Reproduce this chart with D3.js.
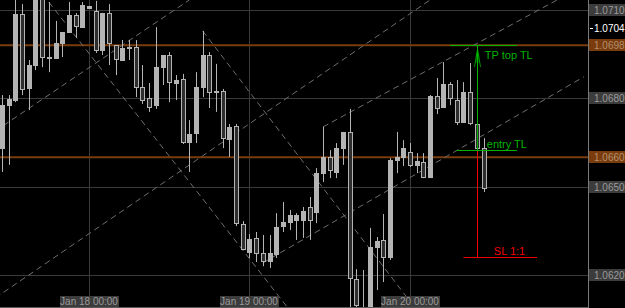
<!DOCTYPE html>
<html>
<head>
<meta charset="utf-8">
<script src="https://cdn.jsdelivr.net/npm/d3@7"></script>
<style>
  body { margin: 0; background: #000; }
  svg { display: block; }
  text { font-family: "Liberation Sans", Arial, sans-serif; }
</style>
</head>
<body>
<div id="chart"></div>
<script>
// EURUSD H1, one bar per hour, first bar Jan 17 11:00
const firstBar = new Date(2017, 0, 17, 11);

const open = [
  1.06631, 1.06777, 1.06794, 1.07086, 1.06835, 1.06913, 1.07141, 1.06940, 1.06937, 1.06988,
  1.07025, 1.07083, 1.07042, 1.07107, 1.07097, 1.06964, 1.07090, 1.06981, 1.06930, 1.06974,
  1.06974, 1.06838, 1.06801, 1.06777, 1.06906, 1.06947, 1.06852, 1.06866, 1.06652, 1.06682,
  1.06838, 1.06947, 1.06825, 1.06825, 1.06662, 1.06706, 1.06373, 1.06278, 1.06326, 1.06275,
  1.06247, 1.06271, 1.06366, 1.06380, 1.06387, 1.06387, 1.06431, 1.06414, 1.06546, 1.06601,
  1.06550, 1.06631, 1.06686, 1.06186, 1.06047, 1.06081, 1.06295, 1.06319, 1.06261, 1.06590,
  1.06601, 1.06618, 1.06574, 1.06584, 1.06533, 1.06808, 1.06771, 1.06849, 1.06794, 1.06720,
  1.06821, 1.06713, 1.06631
];
const high = [
  1.06811, 1.06811, 1.07151, 1.07120, 1.06930, 1.07151, 1.07151, 1.07127, 1.07063, 1.07025,
  1.07127, 1.07090, 1.07127, 1.07114, 1.07131, 1.07090, 1.07120, 1.06981, 1.06998, 1.06998,
  1.06998, 1.06913, 1.06852, 1.07042, 1.06947, 1.06957, 1.06879, 1.06883, 1.06726, 1.06889,
  1.07029, 1.06957, 1.06917, 1.06832, 1.06713, 1.06713, 1.06383, 1.06339, 1.06346, 1.06336,
  1.06336, 1.06410, 1.06448, 1.06421, 1.06410, 1.06431, 1.06465, 1.06563, 1.06703, 1.06624,
  1.06648, 1.06686, 1.06764, 1.06220, 1.06217, 1.06360, 1.06329, 1.06407, 1.06597, 1.06686,
  1.06658, 1.06648, 1.06614, 1.06614, 1.06811, 1.06869, 1.06923, 1.06855, 1.06862, 1.06855,
  1.06920, 1.06720, 1.06665
];
const low = [
  1.06550, 1.06574, 1.06787, 1.06811, 1.06760, 1.06896, 1.06906, 1.06889, 1.06937, 1.06940,
  1.07025, 1.07005, 1.07042, 1.07107, 1.06954, 1.06947, 1.06913, 1.06879, 1.06930, 1.06930,
  1.06804, 1.06781, 1.06754, 1.06764, 1.06845, 1.06787, 1.06794, 1.06645, 1.06550, 1.06648,
  1.06804, 1.06767, 1.06754, 1.06631, 1.06601, 1.06366, 1.06285, 1.06258, 1.06244, 1.06230,
  1.06224, 1.06258, 1.06346, 1.06353, 1.06319, 1.06326, 1.06319, 1.06376, 1.06516, 1.06529,
  1.06529, 1.06574, 1.06081, 1.06074, 1.06030, 1.06074, 1.06149, 1.06176, 1.06251, 1.06546,
  1.06570, 1.06567, 1.06546, 1.06529, 1.06529, 1.06747, 1.06767, 1.06777, 1.06709, 1.06720,
  1.06709, 1.06624, 1.06482
];
const close = [
  1.06777, 1.06798, 1.07086, 1.06832, 1.06913, 1.07141, 1.06940, 1.06938, 1.06988, 1.07025,
  1.07083, 1.07046, 1.07117, 1.07114, 1.06964, 1.07090, 1.06988, 1.06934, 1.06971, 1.06972,
  1.06838, 1.06794, 1.06771, 1.06906, 1.06947, 1.06855, 1.06862, 1.06652, 1.06679, 1.06838,
  1.06947, 1.06821, 1.06824, 1.06665, 1.06703, 1.06376, 1.06288, 1.06322, 1.06275, 1.06247,
  1.06275, 1.06363, 1.06380, 1.06404, 1.06404, 1.06417, 1.06387, 1.06546, 1.06601, 1.06557,
  1.06631, 1.06686, 1.06190, 1.06098, 1.06081, 1.06295, 1.06315, 1.06261, 1.06590, 1.06601,
  1.06631, 1.06574, 1.06587, 1.06533, 1.06808, 1.06767, 1.06849, 1.06801, 1.06720, 1.06821,
  1.06716, 1.06631, 1.06495
];

const gridPrices = [1.0710, 1.0680, 1.0650, 1.0620];
const levelPrices = [1.0698, 1.0660];
const bidPrice = 1.0704;

// trend lines: [bar index, price] anchors
const channelLines = [
  [[-0.3, 1.06689], [28.1, 1.07134]],
  [[-0.3, 1.06122], [64.3, 1.07134]],
  [[7.9, 1.07127], [43.8, 1.06081]],
  [[30, 1.07029], [62.5, 1.06081]],
  [[48, 1.06703], [83, 1.07134]],
  [[39, 1.06241], [87.6, 1.06873]]
];

// trade plan lines
const tpPrice = 1.06981, entryPrice = 1.06624, slPrice = 1.06261;
const planBar = 71.2;
const tpSpan = [67.7, 77.9], entrySpan = [68.6, 77.3], slSpan = [69.5, 80.5];

const width = 625, height = 308;
const plotRight = 588, plotBottom = 307;

const parseBar = i => d3.timeHour.offset(firstBar, i);
const bars = open.map((o, i) => ({
  t: parseBar(i), o, h: high[i], l: low[i], c: close[i]
}));

const x = d3.scaleTime()
  .domain([firstBar, parseBar(72)])
  .range([2, 483.5]);
const y = d3.scaleLinear()
  .domain([1.0620, 1.0710])
  .range([275, 10]);

const xb = i => x(parseBar(i));
const snap = v => Math.round(v) + 0.5;

const svg = d3.select('#chart').append('svg')
  .attr('width', width)
  .attr('height', height);

svg.append('rect').attr('width', width).attr('height', height).attr('fill', '#000');

svg.append('clipPath').attr('id', 'plot')
  .append('rect').attr('width', plotRight).attr('height', plotBottom);

const plot = svg.append('g').attr('clip-path', 'url(#plot)');

// grid
plot.selectAll('.hgrid').data(gridPrices).join('line')
  .attr('x1', 0).attr('x2', plotRight)
  .attr('y1', d => snap(y(d))).attr('y2', d => snap(y(d)))
  .attr('stroke', '#3a3a3a');

const days = d3.timeDay.range(d3.timeDay.ceil(firstBar), parseBar(80));
plot.selectAll('.vgrid').data(days).join('line')
  .attr('x1', d => snap(x(d))).attr('x2', d => snap(x(d)))
  .attr('y1', 0).attr('y2', plotBottom)
  .attr('stroke', '#3a3a3a');

// horizontal levels
plot.selectAll('.level').data(levelPrices).join('line')
  .attr('x1', 0).attr('x2', plotRight)
  .attr('y1', d => y(d)).attr('y2', d => y(d))
  .attr('stroke', '#7a3c0c').attr('stroke-width', 2);

// channel trend lines
const line = d3.line().x(d => xb(d[0])).y(d => y(d[1]));
plot.selectAll('.trend').data(channelLines).join('path')
  .attr('d', line)
  .attr('fill', 'none')
  .attr('stroke', '#6e6e6e')
  .attr('stroke-dasharray', '6,4');

// candles
const candle = plot.selectAll('.candle').data(bars).join('g');
candle.append('line')
  .attr('x1', d => snap(x(d.t))).attr('x2', d => snap(x(d.t)))
  .attr('y1', d => y(d.h)).attr('y2', d => y(d.l))
  .attr('stroke', '#b4b4b4');
candle.append('rect')
  .attr('x', d => snap(x(d.t)) - 2)
  .attr('y', d => Math.round(y(Math.max(d.o, d.c))) + 0.5)
  .attr('width', 4)
  .attr('height', d => Math.max(1, Math.round(Math.abs(y(d.o) - y(d.c)))))
  .attr('fill', d => d.c >= d.o ? '#b4b4b4' : '#2e2e2e')
  .attr('stroke', '#b4b4b4');

// trade plan
const green = '#00b400', red = '#f00000';
plot.append('line')
  .attr('x1', snap(xb(planBar))).attr('x2', snap(xb(planBar)))
  .attr('y1', y(tpPrice)).attr('y2', y(entryPrice))
  .attr('stroke', green);
plot.append('line')
  .attr('x1', snap(xb(planBar))).attr('x2', snap(xb(planBar)))
  .attr('y1', y(entryPrice)).attr('y2', y(slPrice))
  .attr('stroke', red);
plot.append('line')
  .attr('x1', xb(tpSpan[0])).attr('x2', xb(tpSpan[1]))
  .attr('y1', snap(y(tpPrice))).attr('y2', snap(y(tpPrice)))
  .attr('stroke', green);
plot.append('line')
  .attr('x1', xb(entrySpan[0])).attr('x2', xb(entrySpan[1]))
  .attr('y1', snap(y(entryPrice))).attr('y2', snap(y(entryPrice)))
  .attr('stroke', green);
plot.append('line')
  .attr('x1', xb(slSpan[0])).attr('x2', xb(slSpan[1]))
  .attr('y1', snap(y(slPrice))).attr('y2', snap(y(slPrice)))
  .attr('stroke', red);

// thin arrow heads under the tp line
const ax = snap(xb(planBar));
const ay = y(tpPrice);
[-3, 3].forEach(dx => {
  plot.append('path')
    .attr('d', `M${ax + dx},${ay + 22} L${ax},${ay + 4}`)
    .attr('fill', 'none').attr('stroke', green).attr('stroke-width', 0.8);
});
plot.append('path')
  .attr('d', `M${ax - 1.5},${ay + 18} L${ax - 1},${ay + 8} M${ax + 1.5},${ay + 18} L${ax + 1},${ay + 8}`)
  .attr('fill', 'none').attr('stroke', green).attr('stroke-width', 0.6);

plot.append('text').attr('x', xb(planBar) + 8).attr('y', y(tpPrice) + 14)
  .attr('fill', green).attr('font-size', 11).text('TP top TL');
plot.append('text').attr('x', xb(planBar) + 10).attr('y', y(entryPrice) - 2)
  .attr('fill', green).attr('font-size', 11).text('entry TL');
plot.append('text').attr('x', xb(planBar) + 17).attr('y', y(slPrice) - 2)
  .attr('fill', red).attr('font-size', 11).text('SL 1:1');

// price axis
svg.append('line')
  .attr('x1', plotRight + 0.5).attr('x2', plotRight + 0.5)
  .attr('y1', 0).attr('y2', height)
  .attr('stroke', '#7a7a7a');

const fmt = d3.format('.4f');
const priceLabels = svg.append('g');
const gridLab = priceLabels.selectAll('.gl').data(gridPrices).join('g')
  .attr('transform', d => `translate(${plotRight + 1},${Math.round(y(d))})`);
gridLab.append('rect').attr('x', 0).attr('y', -6).attr('width', 40).attr('height', 12).attr('fill', '#3c3c3c');
gridLab.append('text').attr('x', 5).attr('y', 4).attr('fill', '#9a9a9a').attr('font-size', 10).text(d => fmt(d));

const levLab = priceLabels.selectAll('.ll').data(levelPrices).join('g')
  .attr('transform', d => `translate(${plotRight + 1},${Math.round(y(d))})`);
levLab.append('rect').attr('x', 0).attr('y', -6).attr('width', 40).attr('height', 12).attr('fill', '#7a3c0c');
levLab.append('text').attr('x', 5).attr('y', 4).attr('fill', '#b09070').attr('font-size', 10).text(d => fmt(d));

svg.append('line')
  .attr('x1', plotRight + 2).attr('x2', plotRight + 5)
  .attr('y1', Math.round(y(bidPrice)) + 0.5).attr('y2', Math.round(y(bidPrice)) + 0.5)
  .attr('stroke', '#fff');
svg.append('text').attr('x', plotRight + 6).attr('y', y(bidPrice) + 4)
  .attr('fill', '#fff').attr('font-size', 10).text(fmt(bidPrice));

// time axis labels
svg.append('line')
  .attr('x1', 0).attr('x2', plotRight)
  .attr('y1', plotBottom + 0.5).attr('y2', plotBottom + 0.5)
  .attr('stroke', '#5a5a5a');
const tfmt = d3.timeFormat('%b %d %H:%M');
const tl = svg.selectAll('.tl').data(days.filter(d => x(d) < plotRight)).join('g')
  .attr('transform', d => `translate(${Math.round(x(d))},296)`);
tl.append('rect').attr('x', -29).attr('y', 0).attr('width', 59).attr('height', 11).attr('fill', '#3c3c3c');
tl.append('text').attr('x', 0).attr('y', 9).attr('text-anchor', 'middle')
  .attr('fill', '#9a9a9a').attr('font-size', 10).text(d => tfmt(d));
</script>
</body>
</html>
